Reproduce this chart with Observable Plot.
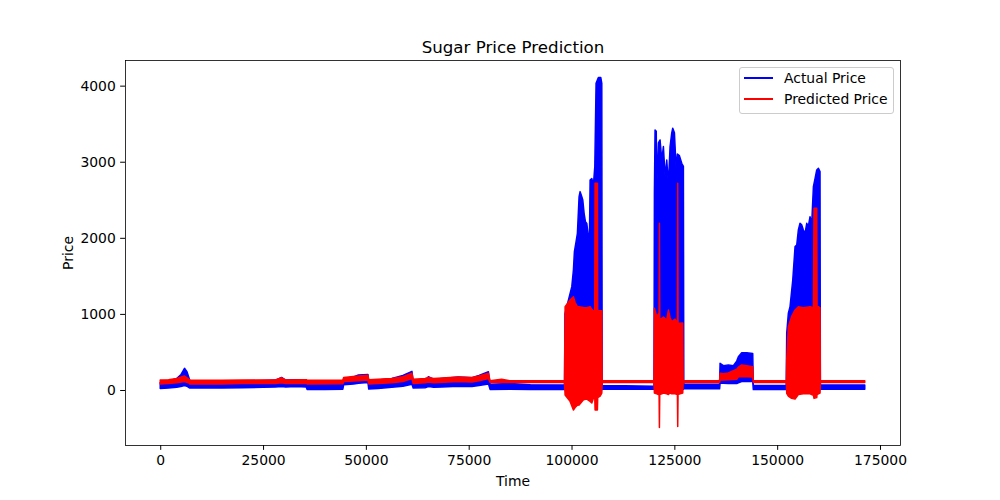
<!DOCTYPE html>
<html>
<head>
<meta charset="utf-8">
<script src="https://cdn.jsdelivr.net/npm/d3@7"></script>
<script src="https://cdn.jsdelivr.net/npm/@observablehq/plot@0.6"></script>
<style>
  body { margin: 0; background: #fff; }
  #wrap { position: relative; width: 1000px; height: 500px; font-family: "DejaVu Sans", sans-serif; }
  #legend { position: absolute; left: 739px; top: 67px; width: 153px; height: 45px; border: 1px solid #cccccc; border-radius: 3px; background: rgba(255,255,255,0.8); font-size: 13.9px; color: #000; }
  .sw { position: absolute; left: 4px; width: 29px; height: 2px; }
  .lt { position: absolute; left: 44px; line-height: 16px; white-space: nowrap; }
</style>
</head>
<body>
<div id="wrap"><div id="legend"></div></div>
<script>
const titleText = "Sugar Price Prediction";
const xLabel = "Time";
const yLabel = "Price";
const seriesNames = ["Actual Price", "Predicted Price"];
const seriesColors = ["blue", "red"];
const xTicks = [0, 25000, 50000, 75000, 100000, 125000, 150000, 175000];
const yTicks = [0, 1000, 2000, 3000, 4000];

// Actual price: envelope (low / high) of the dense series
const actualX = [0,2000,4000,5000,5900,6500,6900,7200,10000,15000,20000,25000,28000,29500,30500,33000,35500,35700,40000,44400,44600,47000,48200,50500,50700,53000,56300,59000,61200,61500,64400,65200,66500,68500,72500,75800,77500,79800,80200,85000,90000,98300,
  98400,100070,100460,100700,101110,101430,101840,102090,102500,102740,103060,103380,103710,104100,104350,104520,104930,105320,105660,105970,106530,107120,107360,107450,113000,120050,
  120150,120310,120600,120720,121130,121530,121940,122340,122750,123150,123560,123960,124370,124610,125020,125420,125740,126230,126800,127200,127300,136000,
  136120,136930,138130,139350,140160,140570,141380,142600,144060,144200,152200,
  152320,152720,153130,153790,154350,154760,155150,155560,155970,156370,156780,157190,157580,157990,158400,158810,159220,159620,160030,160420,160500,171300];
const actualLow = [20,25,35,45,60,50,35,25,30,25,30,35,40,45,40,45,40,8,8,10,70,80,90,100,12,20,35,50,75,25,30,45,35,40,50,45,60,80,8,10,8,8,
  5,5,5,5,5,5,5,5,5,5,5,5,5,5,5,5,5,5,5,5,5,5,5,10,10,10,
  10,10,10,10,10,10,10,10,10,10,10,10,10,10,10,10,10,10,10,10,15,15,
  88,90,85,90,85,95,110,114,110,5,5,
  5,5,5,5,5,5,5,5,5,5,5,5,5,5,5,5,5,5,5,5,10,10];
const actualHigh = [100,115,150,200,285,240,175,125,120,115,120,125,130,165,130,135,130,85,80,85,150,170,197,205,100,130,150,190,245,110,120,175,140,150,170,160,190,240,75,85,70,65,
  1000,1358,1577,1818,1949,2059,2541,2607,2541,2497,2322,2212,2190,2015,1950,2760,2780,2695,2935,4031,4107,4107,4030,60,55,50,
  2600,3417,3400,2672,3247,3286,3023,3200,2804,3023,2700,3200,3380,3440,3380,2920,3100,3080,2980,2940,75,75,
  351,320,330,320,380,438,491,491,480,60,60,
  745,1008,1096,1446,1884,1906,2103,2191,2170,2103,2059,2191,2150,2278,2191,2672,2782,2892,2914,2870,65,65];

// Predicted price: envelope (low / high)
const predX = [0,2000,4000,5900,7000,7200,15000,20000,28000,29500,30500,35500,35700,44400,44600,48200,50500,50700,56300,59000,61200,61500,64400,65200,66500,72500,75800,77500,79800,80200,83000,85000,98300,
  98440,99650,100460,100870,101430,101840,102900,103710,104520,104930,105320,105650,105730,106290,106370,106950,107360,107450,120050,
  120150,120720,121130,121290,121370,121450,121940,122340,123150,123560,123960,124370,125180,125740,125820,125900,126390,127040,127150,136000,
  136120,136930,138130,140160,140570,141380,142600,144060,144200,152250,
  152320,152720,153500,154350,155150,156370,157990,158810,158970,159620,159700,160030,160420,160500,171300];
const predLow = [80,85,95,110,90,80,80,85,85,95,85,85,80,82,110,120,130,80,95,110,150,85,95,105,95,110,105,120,150,100,100,100,100,
  -66,-150,-263,-230,-200,-197,-130,-120,-150,-170,-110,-100,-263,-263,-100,-80,-40,100,100,
  -40,-50,-60,-60,-493,-60,-50,-40,-50,-60,-40,-50,-50,-60,-480,-60,-50,-40,100,100,
  131,130,135,140,175,175,175,170,100,100,
  -44,-80,-110,-120,-60,-50,-50,-70,-110,-100,-60,-50,-40,100,100];
const predHigh = [130,135,150,184,140,130,128,130,132,160,132,135,128,130,165,185,195,135,150,175,219,140,150,165,150,170,165,185,219,120,140,120,120,
  1095,1183,1226,1150,1095,1095,1085,1080,1095,1060,1040,1040,2717,2717,1040,1040,1040,120,120,
  1075,964,1000,960,2191,930,940,960,920,1050,950,898,930,876,2717,880,876,880,120,120,
  219,215,225,272,300,329,320,307,122,122,
  394,832,964,1052,1095,1080,1095,1080,2388,2388,1095,1095,1080,122,122];

const actual = actualX.map((x, i) => ({x, lo: actualLow[i], hi: actualHigh[i]}));
const pred = predX.map((x, i) => ({x, lo: predLow[i], hi: predHigh[i]}));

const [xa, xb] = d3.extent(actualX.concat(predX));
const xm = (xb - xa) * 0.05;
const [ya, yb] = d3.extent(actualLow.concat(actualHigh, predLow, predHigh));
const ym = (yb - ya) * 0.05;

const chart = Plot.plot({
  width: 1000,
  height: 500,
  marginLeft: 125,
  marginRight: 100,
  marginTop: 60,
  marginBottom: 55,
  style: {fontFamily: "DejaVu Sans", fontSize: "13.9px", color: "black", background: "white", overflow: "visible"},
  x: {domain: [xa - xm, xb + xm]},
  y: {domain: [ya - ym, yb + ym]},
  marks: [
    Plot.areaY(actual, {x: "x", y1: "lo", y2: "hi", fill: seriesColors[0], stroke: seriesColors[0], strokeWidth: 1.5, strokeLinejoin: "round", curve: "linear"}),
    Plot.areaY(pred, {x: "x", y1: "lo", y2: "hi", fill: seriesColors[1], stroke: seriesColors[1], strokeWidth: 1.5, strokeLinejoin: "round", curve: "linear"}),
    Plot.frame({stroke: "black", strokeWidth: 0.8}),
    Plot.axisX({ticks: xTicks, tickFormat: d => String(d), tickSize: 4.86, tickPadding: 4.86, label: xLabel, labelAnchor: "center", labelOffset: 40, labelArrow: "none"}),
    Plot.axisY({ticks: yTicks, tickFormat: d => String(d), tickSize: 4.86, tickPadding: 4.86, label: yLabel, labelAnchor: "center", labelOffset: 62, labelArrow: "none"}),
    Plot.text([titleText], {text: d => d, frameAnchor: "top", lineAnchor: "bottom", dy: -8, fontSize: 16.67})
  ]
});
const wrap = document.getElementById("wrap");
wrap.insertBefore(chart, wrap.firstChild);

const legend = document.getElementById("legend");
const rowCenters = [10.3, 31.3];
seriesNames.forEach((name, i) => {
  const sw = document.createElement("div");
  sw.className = "sw";
  sw.style.background = seriesColors[i];
  sw.style.top = (rowCenters[i] - 1) + "px";
  legend.appendChild(sw);
  const t = document.createElement("div");
  t.className = "lt";
  t.style.top = (rowCenters[i] - 8) + "px";
  t.textContent = name;
  legend.appendChild(t);
});
</script>
</body>
</html>
